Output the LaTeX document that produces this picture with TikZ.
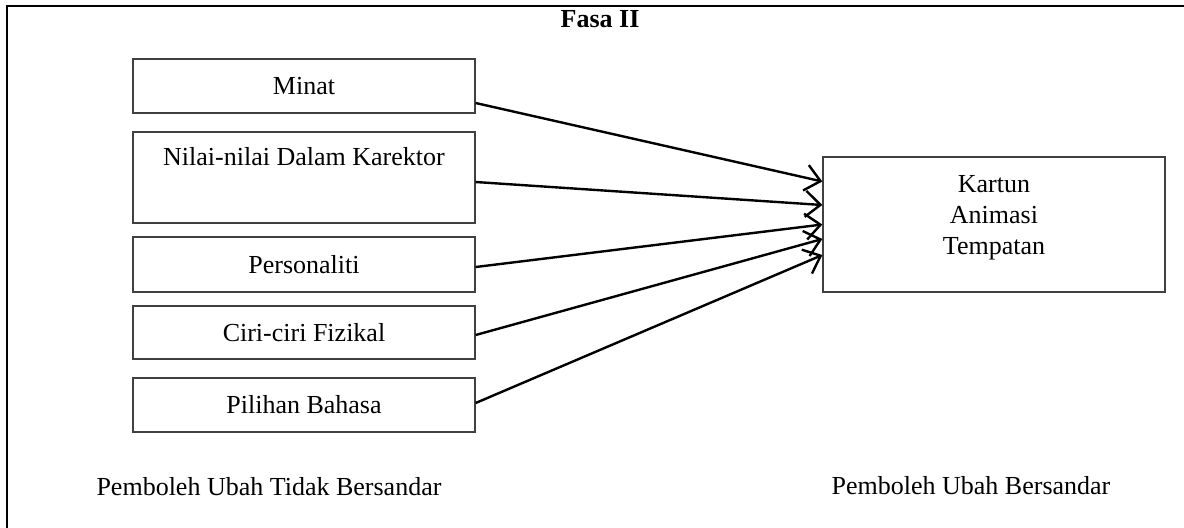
\documentclass[tikz,border=0pt]{standalone}
\usepackage{fontspec}
\setmainfont{Liberation Serif}
\usetikzlibrary{arrows.meta}

\tikzset{
    varbox/.style={draw=black!75, line width=0.65pt, minimum width=171pt, inner sep=0pt},
    link/.style={-{Straight Barb[length=7.5pt, width=13pt]}, line width=1.2pt}
}

\begin{document}
\begin{tikzpicture}[x=0.5pt, y=-0.5pt, font=\fontsize{13}{15.5}\selectfont]
            \useasboundingbox (0, 0) rectangle (1184, 527);
            \clip (0, 0) rectangle (1184, 527);
            \draw[line width=1.3pt] (7, 6) rectangle (1210, 560);
            \node[anchor=base, font=\fontsize{13}{15.5}\selectfont\bfseries] (fasa) at (600, 27) {Fasa II};
            \node[varbox, minimum height=27pt] (minat) at (304, 86) {Minat};
            \node[varbox, minimum height=45.5pt] (nilai) at (304, 177.5) {};
            \node[anchor=north, inner sep=0pt] (nilaitext) at (304, 147) {Nilai-nilai Dalam Karektor};
            \node[varbox, minimum height=27.5pt] (personaliti) at (304, 264.5) {Personaliti};
            \node[varbox, minimum height=26.5pt] (ciri) at (304, 332.5) {Ciri-ciri Fizikal};
            \node[varbox, minimum height=27pt] (pilihan) at (304, 405) {Pilihan Bahasa};
            \node[varbox, minimum height=67.5pt] (kartun) at (994, 224.5) {};
            \node[anchor=north, inner sep=0pt, align=center] (kartuntext) at (994, 175) {Kartun\\Animasi\\Tempatan};
            \draw[link] ([yshift=-8.5pt]minat.east) -- ([yshift=21.5pt]kartun.west);
            \draw[link] ([yshift=-2.25pt]nilai.east) -- ([yshift=9.75pt]kartun.west);
            \draw[link] ([yshift=-1.25pt]personaliti.east) -- (kartun.west);
            \draw[link] ([yshift=-1.25pt]ciri.east) -- ([yshift=-7.25pt]kartun.west);
            \draw[link] ([yshift=1pt]pilihan.east) -- ([yshift=-15.25pt]kartun.west);
            \node[anchor=base] (bebas) at (269, 495) {Pemboleh Ubah Tidak Bersandar};
            \node[anchor=base] (bersandar) at (971, 494) {Pemboleh Ubah Bersandar};
        \end{tikzpicture}
\end{document}
